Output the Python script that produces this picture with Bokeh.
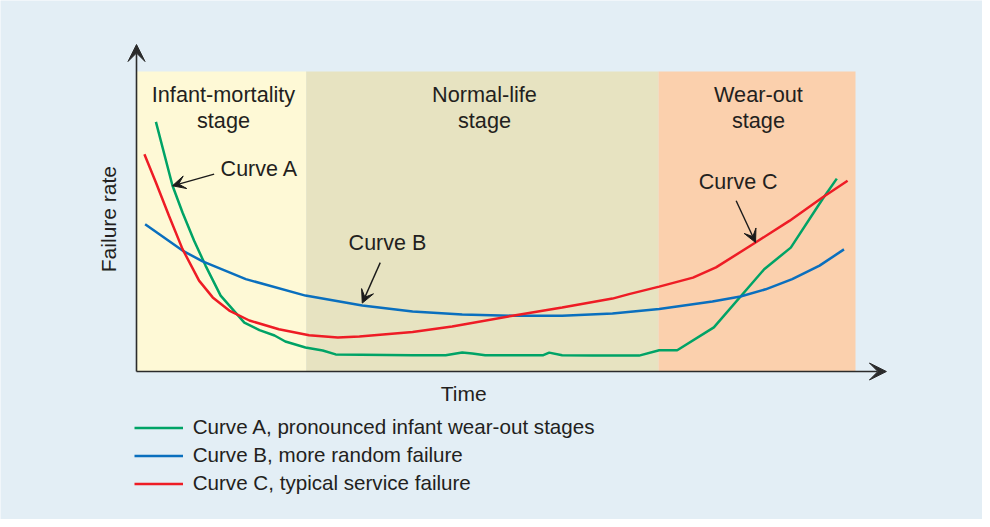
from bokeh.plotting import figure
from bokeh.models import Range1d, Label, Arrow, VeeHead, ColumnDataSource
from bokeh.embed import file_html
from bokeh.resources import INLINE

# ---------------- data ----------------
# Curve A: pronounced infant wear-out stages
a_time = [2.7, 5.0, 6.4, 8.0, 9.6, 11.7, 15.0, 17.1, 19.2, 20.7, 23.5, 25.9, 27.7, 38.4,
          43.0, 45.3, 46.7, 48.5, 56.5, 57.4, 59.2, 63.4, 69.9, 72.7, 74.1, 75.2, 80.3,
          87.3, 91.0, 95.4, 97.4]
a_rate = [83.2, 62.0, 53.0, 43.7, 35.3, 25.3, 16.3, 13.8, 12.0, 10.0, 8.0, 7.0, 5.7, 5.4,
          5.4, 6.3, 6.0, 5.4, 5.4, 6.3, 5.4, 5.3, 5.3, 7.1, 7.1, 7.1, 14.7,
          34.1, 41.3, 57.4, 64.3]
# Curve B: more random failure
b_time = [1.2, 6.4, 9.2, 15.2, 23.5, 31.4, 38.4, 45.3, 52.3, 59.2, 66.2, 72.7, 80.1, 84.0,
          87.5, 91.2, 95.0, 98.4]
b_rate = [49.1, 40.3, 36.7, 30.8, 25.3, 22.0, 20.0, 19.0, 18.6, 18.6, 19.3, 20.8, 23.3, 25.0,
          27.4, 30.8, 35.3, 40.7]
# Curve C: typical service failure
c_time = [1.1, 2.7, 4.5, 6.4, 8.7, 10.6, 12.9, 15.7, 19.8, 24.0, 28.0, 31.0, 38.4, 43.9,
          52.3, 59.2, 66.2, 68.5, 72.7, 77.4, 80.6, 86.1, 90.8, 95.4, 98.9]
c_rate = [72.4, 63.0, 52.0, 40.8, 30.3, 24.7, 20.3, 17.0, 14.1, 12.1, 11.3, 11.7, 13.2, 15.0,
          18.6, 21.3, 24.3, 25.8, 28.3, 31.3, 34.7, 43.0, 50.2, 58.0, 63.6]

# Life stages
stage_names = ["Infant-mortality\nstage", "Normal-life\nstage", "Wear-out\nstage"]
stage_start = [0.0, 23.6, 72.6]
stage_end = [23.6, 72.6, 100.0]
stage_label_x = [12.1, 48.4, 86.5]
stage_colors = ["#FEF9D6", "#E7E3C1", "#FBD0AD"]
stage_top = 100.0

legend_labels = ["Curve A, pronounced infant wear-out stages",
                 "Curve B, more random failure",
                 "Curve C, typical service failure"]

# callouts: label, text position, arrow start and end
callout_names = ["Curve A", "Curve B", "Curve C"]
callout_text_x = [11.7, 29.5, 78.2]
callout_text_y = [67.4, 42.8, 63.3]
callout_from_x = [10.8, 33.9, 83.4]
callout_from_y = [65.8, 36.3, 56.9]
callout_to_x = [5.0, 31.4, 86.1]
callout_to_y = [61.9, 22.8, 43.0]

# ---------------- layout ----------------
W, H = 982, 519
PX_X, PX_Y = 7.19, 3.0        # pixels per data unit
X0_PAGE, Y0_PAGE = 144, 379   # page position of the origin
x_start = (8 - X0_PAGE) / PX_X
x_end = (8 + W - X0_PAGE) / PX_X
y_end = (Y0_PAGE - 8) / PX_Y
y_start = (Y0_PAGE - 8 - H) / PX_Y

BG = "#E3EEF5"
TXT = "#231F20"
FONT = "Liberation Sans"

p = figure(width=W, height=H, output_backend="svg", toolbar_location=None,
           x_axis_type=None, y_axis_type=None,
           x_range=Range1d(x_start, x_end), y_range=Range1d(y_start, y_end),
           min_border=0, min_border_left=0, min_border_right=0,
           min_border_top=0, min_border_bottom=0)
p.background_fill_color = BG
p.border_fill_color = BG
p.outline_line_color = None
p.grid.visible = False

# stage bands
src = ColumnDataSource(dict(left=stage_start, right=stage_end,
                            bottom=[0] * 3, top=[stage_top] * 3, color=stage_colors))
p.quad(left="left", right="right", bottom="bottom", top="top", color="color",
       line_color=None, source=src)

for name, cx in zip(stage_names, stage_label_x):
    l1, l2 = name.split("\n")
    for txt, yy in ((l1, 92.3), (l2, 83.7)):
        p.add_layout(Label(x=cx, y=yy, text=txt, text_align="center", text_baseline="middle",
                           text_font=FONT, text_font_size="21.7px", text_color=TXT))

# curves
p.line(a_time, a_rate, line_color="#00A366", line_width=2.5, legend_label=legend_labels[0])
p.line(b_time, b_rate, line_color="#0A6FBE", line_width=2.5, legend_label=legend_labels[1])
p.line(c_time, c_rate, line_color="#EE1C25", line_width=2.5, legend_label=legend_labels[2])

# axes with arrowheads
axis_color = "#2B2B2B"
p.add_layout(Arrow(x_start=0, y_start=0, x_end=0, y_end=109, line_color=axis_color,
                   line_width=1.6,
                   end=VeeHead(size=17, fill_color=axis_color, line_color=axis_color)))
p.add_layout(Arrow(x_start=0, y_start=0, x_end=104.3, y_end=0, line_color=axis_color,
                   line_width=1.6,
                   end=VeeHead(size=17, fill_color=axis_color, line_color=axis_color)))

p.add_layout(Label(x=-3.9, y=50.8, text="Failure rate", angle=90, angle_units="deg",
                   text_align="center", text_baseline="middle", text_font=FONT,
                   text_font_size="21px", text_color=TXT))
p.add_layout(Label(x=45.5, y=-7.2, text="Time", text_align="center", text_baseline="middle",
                   text_font=FONT, text_font_size="21px", text_color=TXT))

# callouts
for name, tx, ty, fx, fy, ex, ey in zip(callout_names, callout_text_x, callout_text_y,
                                        callout_from_x, callout_from_y, callout_to_x, callout_to_y):
    p.add_layout(Label(x=tx, y=ty, text=name, text_align="left", text_baseline="middle",
                       text_font=FONT, text_font_size="21.5px", text_color=TXT))
    p.add_layout(Arrow(x_start=fx, y_start=fy, x_end=ex, y_end=ey, line_color="#1A1A1A",
                       line_width=1.4,
                       end=VeeHead(size=13, fill_color="#1A1A1A", line_color="#1A1A1A")))

# legend
lg = p.legend[0]
lg.location = (133.7, 23.8)
lg.padding = 0
lg.margin = 0
lg.border_line_color = None
lg.background_fill_alpha = 0
lg.label_text_font = FONT
lg.label_text_font_size = "20.6px"
lg.label_text_color = TXT
lg.glyph_width = 49
lg.glyph_height = 23
lg.label_height = 23
lg.spacing = 4
lg.label_standoff = 10

open("out.html", "w").write(file_html(p, INLINE))
